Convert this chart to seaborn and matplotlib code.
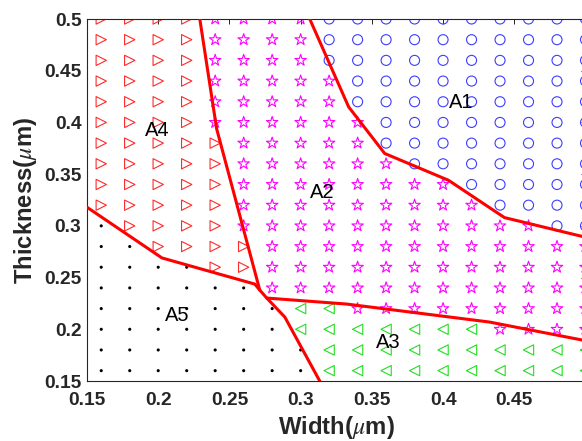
import numpy as np
import pandas as pd
import matplotlib
matplotlib.use("Agg")
import matplotlib.pyplot as plt
import seaborn as sns

# ---------------- data ----------------
widths = [0.16, 0.18, 0.20, 0.22, 0.24, 0.26, 0.28, 0.30, 0.32, 0.34,
          0.36, 0.38, 0.40, 0.42, 0.44, 0.46, 0.48, 0.50]
thicknesses = [0.50, 0.48, 0.46, 0.44, 0.42, 0.40, 0.38, 0.36, 0.34,
               0.32, 0.30, 0.28, 0.26, 0.24, 0.22, 0.20, 0.18, 0.16]
# region code per grid point (row = thickness, column = width)
# C=A1, S=A2, G=A3, T=A4, D=A5
region_rows = [
    "TTTTSSSSCCCCCCCCCC",
    "TTTTSSSSCCCCCCCCCC",
    "TTTTSSSSCCCCCCCCCC",
    "TTTTSSSSSCCCCCCCCC",
    "TTTTSSSSSCCCCCCCCC",
    "TTTTSSSSSSCCCCCCCC",
    "TTTTTSSSSSCCCCCCCC",
    "TTTTTSSSSSSCCCCCCC",
    "TTTTTSSSSSSSSCCCCC",
    "TTTTTSSSSSSSSSCCCC",
    "DTTTTSSSSSSSSSSSCC",
    "DDTTTTSSSSSSSSSSSS",
    "DDDDTTSSSSSSSSSSSS",
    "DDDDDDSSSSSSSSSSSS",
    "DDDDDDDGGSSSSSSSSS",
    "DDDDDDDGGGGGGGSSSS",
    "DDDDDDDDGGGGGGGGGG",
    "DDDDDDDDGGGGGGGGGG",
]

# boundary polylines
b1_x = [0.2292, 0.241, 0.2713, 0.2762, 0.2889, 0.3134]
b1_y = [0.500, 0.394, 0.2379, 0.2302, 0.2118, 0.150]
b2_x = [0.3064, 0.3337, 0.359, 0.4039, 0.4431, 0.500]
b2_y = [0.500, 0.415, 0.370, 0.344, 0.308, 0.289]
b3_x = [0.150, 0.2026, 0.2678, 0.2713]
b3_y = [0.318, 0.269, 0.2437, 0.2379]
b4_x = [0.2762, 0.3323, 0.4326, 0.500]
b4_y = [0.2302, 0.2244, 0.207, 0.189]

labels = ["A1", "A2", "A3", "A4", "A5"]
label_x = [0.413, 0.3148, 0.3615, 0.199, 0.213]
label_y = [0.419, 0.3327, 0.1875, 0.3925, 0.2137]

xticks = [0.15, 0.2, 0.25, 0.3, 0.35, 0.4, 0.45]
xtick_labels = ["0.15", "0.2", "0.25", "0.3", "0.35", "0.4", "0.45"]
yticks = [0.15, 0.2, 0.25, 0.3, 0.35, 0.4, 0.45, 0.5]
ytick_labels = ["0.15", "0.2", "0.25", "0.3", "0.35", "0.4", "0.45", "0.5"]

# ---------------- build table ----------------
recs = []
for yv, row in zip(thicknesses, region_rows):
    for xv, code in zip(widths, row):
        recs.append((xv, yv, code))
df = pd.DataFrame(recs, columns=["Width", "Thickness", "Region"])

# ---------------- style ----------------
sns.set_style("white")
plt.rcParams["font.family"] = ["Liberation Sans", "DejaVu Sans"]
plt.rcParams["mathtext.fontset"] = "stix"

fig = plt.figure(figsize=(5.82, 4.41), dpi=100)
ax = fig.add_axes([87 / 582, 60 / 441, (585.5 - 87) / 582, 362 / 441])

styles = {
    "C": dict(marker="o", color="#3d3dff", s=52, filled=False),
    "S": dict(marker="*", color="#ff00ff", s=75, filled=False),
    "G": dict(marker="<", color="#22dd22", s=55, filled=False),
    "T": dict(marker=">", color="#ff2a2a", s=55, filled=False),
    "D": dict(marker="o", color="black", s=5, filled=True),
}
for code, st in styles.items():
    sub = df[df["Region"] == code]
    if st["filled"]:
        sns.scatterplot(data=sub, x="Width", y="Thickness", ax=ax,
                        marker=st["marker"], s=st["s"], color=st["color"],
                        edgecolor="none", linewidth=0, legend=False, zorder=2)
    else:
        sns.scatterplot(data=sub, x="Width", y="Thickness", ax=ax,
                        marker=st["marker"], s=st["s"], facecolor="none",
                        edgecolor=st["color"], linewidth=0.8, legend=False,
                        zorder=2)

for bx, by in [(b1_x, b1_y), (b2_x, b2_y), (b3_x, b3_y), (b4_x, b4_y)]:
    sns.lineplot(x=bx, y=by, sort=False, estimator=None, ax=ax,
                 color="#ff0000", linewidth=2.2, zorder=3)

for t, lx, ly in zip(labels, label_x, label_y):
    ax.text(lx, ly, t, fontsize=14.5, ha="center", va="center",
            color="black", zorder=4)

ax.set_xlim(0.15, 0.5)
ax.set_ylim(0.15, 0.5)
ax.set_xticks(xticks)
ax.set_xticklabels(xtick_labels)
ax.set_yticks(yticks)
ax.set_yticklabels(ytick_labels)
ax.tick_params(direction="in", length=3.6, width=0.7, top=True, right=True,
               labelsize=13.8, colors="#262626", labelcolor="#262626")
ax.tick_params(axis="x", pad=8)
ax.tick_params(axis="y", pad=4)
for lab in ax.get_xticklabels() + ax.get_yticklabels():
    lab.set_fontweight("bold")
for sp in ax.spines.values():
    sp.set_visible(True)
    sp.set_color("#262626")
    sp.set_linewidth(0.8)

ax.set_xlabel(r"Width($\mu$m)", fontsize=17.2, fontweight="bold",
              color="#262626", labelpad=3.5)
ax.set_ylabel(r"Thickness($\mu$m)", fontsize=17.2, fontweight="bold",
              color="#262626", labelpad=4)

fig.savefig("out.png", dpi=100)
